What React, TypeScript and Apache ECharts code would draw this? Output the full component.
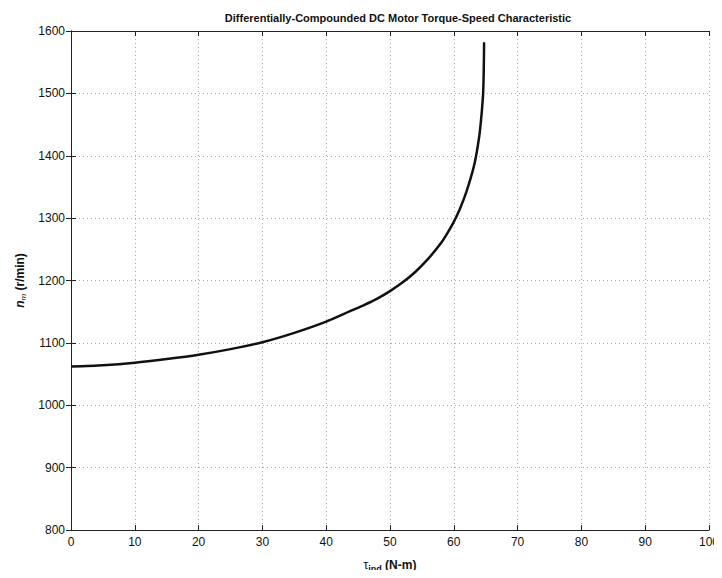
import React, { useEffect, useRef } from "react";
import * as echarts from "echarts";

const torque = [0, 5, 10, 15, 20, 25, 30, 35, 40, 44, 46, 48, 50, 52, 54, 56, 58, 59, 60, 61, 62, 63, 63.5, 64, 64.2, 64.4, 64.6, 64.7, 64.75];
const speed = [1062, 1064, 1068, 1074, 1081, 1090, 1101, 1116, 1134, 1152, 1161, 1171, 1183, 1197, 1214, 1235, 1260, 1276, 1294, 1316, 1343, 1377, 1400, 1432, 1450, 1472, 1500, 1540, 1582];
const xTicks = { min: 0, max: 100, interval: 10 };
const yTicks = { min: 800, max: 1600, interval: 100 };
const title = "Differentially-Compounded DC Motor Torque-Speed Characteristic";

export default function App() {
  const ref = useRef<HTMLDivElement>(null);
  useEffect(() => {
    if (!ref.current) return;
    const chart = echarts.init(ref.current, null, { renderer: "svg" });
    const font = "Liberation Sans, Arial, sans-serif";
    const axisLine = { show: true, lineStyle: { color: "#222", width: 1 } };
    const splitLine = { show: true, lineStyle: { color: "#aaa", type: [1, 3] as any, width: 1 } };
    const tick = { show: true, inside: true, length: 5, lineStyle: { color: "#222" } };
    chart.setOption({
      animation: false,
      backgroundColor: "#fff",
      title: {
        text: title,
        left: 393,
        textAlign: "center",
        top: 7,
        textStyle: { fontFamily: font, fontSize: 11, fontWeight: "bold", color: "#111" },
      },
      grid: { left: 71, right: 7, top: 31, bottom: 43, containLabel: false },
      xAxis: [
        {
          type: "value",
          ...xTicks,
          position: "bottom",
          axisLine,
          axisTick: tick,
          axisLabel: { fontFamily: font, fontSize: 12, color: "#111", margin: 6, formatter: (v: number) => String(v) },
          splitLine,
          name: "{t|τ}{s|ind} {n|(N-m)}",
          nameLocation: "middle",
          nameGap: 26,
          nameTextStyle: {
            rich: {
              t: { fontFamily: font, fontSize: 12, color: "#111" },
              s: { fontFamily: font, fontSize: 9, color: "#111", fontWeight: "bold", padding: [8, 0, 0, 0] },
              n: { fontFamily: font, fontSize: 12, fontWeight: "bold", color: "#111" },
            },
          },
        },
        {
          type: "value",
          ...xTicks,
          position: "top",
          axisLine,
          axisTick: tick,
          axisLabel: { show: false },
          splitLine: { show: false },
        },
      ],
      yAxis: [
        {
          type: "value",
          ...yTicks,
          position: "left",
          axisLine,
          axisTick: tick,
          axisLabel: { fontFamily: font, fontSize: 12, color: "#111", margin: 6, formatter: (v: number) => String(v) },
          splitLine,
          name: "{n|n}{s|m} {u|(r/min)}",
          nameLocation: "middle",
          nameGap: 42,
          nameRotate: 90,
          nameTextStyle: {
            rich: {
              n: { fontFamily: font, fontSize: 12, fontStyle: "italic", fontWeight: "bold", color: "#111" },
              s: { fontFamily: font, fontSize: 8, fontStyle: "italic", color: "#111", padding: [6, 0, 0, 0] },
              u: { fontFamily: font, fontSize: 12, fontWeight: "bold", color: "#111" },
            },
          },
        },
        {
          type: "value",
          ...yTicks,
          position: "right",
          axisLine,
          axisTick: tick,
          axisLabel: { show: false },
          splitLine: { show: false },
        },
      ],
      series: [
        {
          type: "line",
          xAxisIndex: 0,
          yAxisIndex: 0,
          data: torque.map((t, i) => [t, speed[i]]),
          showSymbol: false,
          smooth: 0.25,
          lineStyle: { color: "#111", width: 2.5 },
        },
      ],
    });
    return () => chart.dispose();
  }, []);
  return <div ref={ref} style={{ width: 722, height: 578, margin: -8 }} />;
}
